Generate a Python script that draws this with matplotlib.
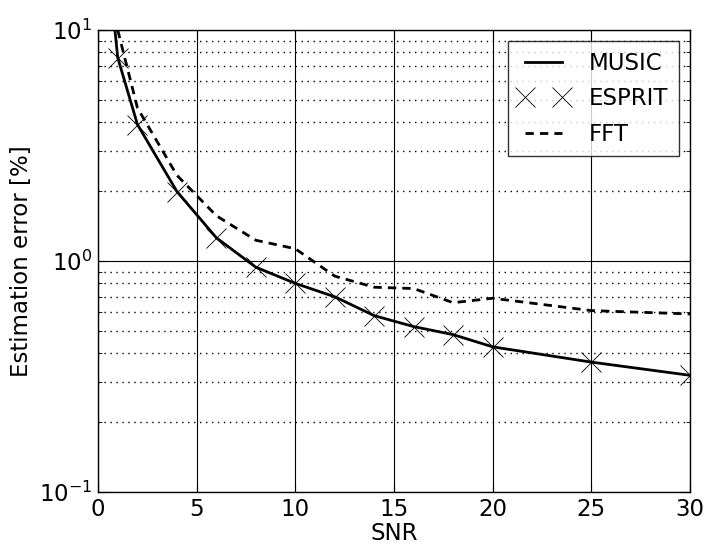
import numpy as np
import matplotlib
matplotlib.use('Agg')
import matplotlib.pyplot as plt

# values
snr_music = [0, 1, 2, 4, 6, 8, 10, 12, 14, 16, 18, 20, 25, 30]
err_music = [54, 7.6, 3.9, 2.0, 1.26, 0.94, 0.80, 0.70, 0.58, 0.52, 0.48, 0.425, 0.365, 0.32]

snr_esprit = [1, 2, 4, 6, 8, 10, 12, 14, 16, 18, 20, 25, 30]
err_esprit = [7.6, 3.88, 1.99, 1.26, 0.94, 0.80, 0.70, 0.58, 0.52, 0.48, 0.425, 0.365, 0.32]

snr_fft = [1, 2, 4, 6, 8, 10, 12, 14, 16, 18, 20, 25, 30]
err_fft = [10.0, 4.6, 2.35, 1.57, 1.23, 1.13, 0.86, 0.77, 0.76, 0.66, 0.69, 0.61, 0.59]

fs = 16.5

fig = plt.figure(figsize=(7.11, 5.46), dpi=100)
ax = fig.add_axes([0.1378, 0.0989, 0.9705 - 0.1378, 0.945 - 0.0989])

ax.plot(snr_music, err_music, 'k-', lw=2, label='MUSIC')
ax.plot(snr_esprit, err_esprit, 'kx', ms=15, mew=0.6, label='ESPRIT')
ax.plot(snr_fft, err_fft, color='k', lw=2, linestyle=(0, (3, 2.2)), label='FFT')

ax.set_yscale('log')
ax.set_xlim(0, 30)
ax.set_ylim(0.1, 10)

ax.grid(True, which='major', color='k', linestyle='-', linewidth=0.8)
ax.grid(True, which='minor', axis='y', color='k', linestyle=(0, (1, 3.3)), linewidth=1.0)
ax.set_axisbelow(True)

ax.tick_params(which='both', direction='in', top=True, right=True, labelsize=fs)
ax.tick_params(which='major', length=6, pad=4)
ax.tick_params(which='minor', length=3)

ax.set_xlabel('SNR', fontsize=fs, labelpad=1)
ax.set_ylabel('Estimation error [%]', fontsize=fs, labelpad=4)

leg = ax.legend(loc='upper right', fontsize=fs, numpoints=2, fancybox=False,
                handlelength=2.2, borderpad=0.45, labelspacing=0.55,
                handletextpad=0.87, borderaxespad=0.5)
leg.get_frame().set_edgecolor('k')
leg.get_frame().set_linewidth(1.0)

for s in ax.spines.values():
    s.set_linewidth(1.0)

fig.savefig('out.png', dpi=100, facecolor='white')
